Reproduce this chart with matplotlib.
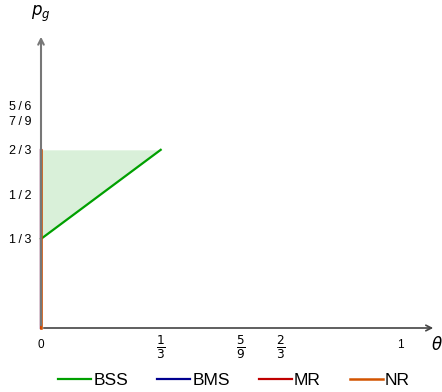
import numpy as np
import matplotlib.pyplot as plt
import matplotlib.transforms as mtransforms

plt.rcParams['font.family'] = ['Liberation Sans', 'DejaVu Sans']

# data
bss_theta = [0, 1/3]
bss_pg = [1/3, 2/3]
region_theta = [0, 1/3]
region_low = [1/3, 2/3]
region_high = [2/3, 2/3]
bms_theta = [0, 0]
bms_pg = [0, 2/3]
mr_theta = [0, 0]
mr_pg = [0, 2/3]
nr_theta = [0, 0]
nr_pg = [0, 2/3]

xticks = [0, 1/3, 5/9, 2/3, 1]
xlabels = ['0', r'$\frac{1}{3}$', r'$\frac{5}{9}$', r'$\frac{2}{3}$', '1']
yticks = [1/3, 1/2, 2/3, 7/9, 5/6]
ylabels = ['1\u2009/\u20093', '1\u2009/\u20092', '2\u2009/\u20093', '7\u2009/\u20099', '5\u2009/\u20096']

c_bss = '#00a000'
c_bms = '#000090'
c_mr = '#c00000'
c_nr = '#d35400'

fig = plt.figure(figsize=(4.42, 3.92), dpi=100)
ax = fig.add_axes([41/442, 64/392, 395/442, 294/392])
ax.set_xlim(0, 1.1)
ax.set_ylim(0, 1.1)
for s in ax.spines.values():
    s.set_visible(False)

# axes with arrows
ax.annotate('', xy=(1.1, 0), xytext=(0, 0),
            arrowprops=dict(arrowstyle='->', color='#444444', lw=1.2), annotation_clip=False)
ax.annotate('', xy=(0, 1.1), xytext=(0, 0),
            arrowprops=dict(arrowstyle='->', color='#777777', lw=1.5), annotation_clip=False)

ax.fill_between(region_theta, region_low, region_high, color=c_bss, alpha=0.15, lw=0)
ax.plot(bss_theta, bss_pg, color=c_bss, lw=1.6, label='BSS', clip_on=False)
ax.plot(bms_theta, bms_pg, color=c_bms, lw=1.6, label='BMS', clip_on=False)
ax.plot(mr_theta, mr_pg, color=c_mr, lw=1.6, label='MR', clip_on=False)
ax.plot(nr_theta, nr_pg, color=c_nr, lw=1.8, label='NR', clip_on=False)

ax.set_xticks(xticks, xlabels, fontsize=8.5)
ax.set_yticks(yticks, ylabels, fontsize=9)
ax.tick_params(axis='y', length=0, pad=7)
ax.tick_params(axis='x', length=0, pad=8)
# fractions sit a bit higher than the plain labels
shift = mtransforms.ScaledTranslation(0, 4/72, fig.dpi_scale_trans)
for lbl in ax.get_xticklabels():
    if 'frac' in lbl.get_text():
        lbl.set_fontsize(12.5)
        lbl.set_transform(lbl.get_transform() + shift)

ax.text(1.085, -0.064, r'$\theta$', fontsize=12, family='DejaVu Serif',
        ha='left', va='center')
ax.text(0.0, 1.176, r'$p_g$', fontsize=12, ha='center', va='center')

fig.legend(loc='center', bbox_to_anchor=(0.53, 0.03), ncol=4, frameon=False,
           fontsize=12.5, handlelength=1.9, handletextpad=0.1, columnspacing=1.7,
           borderpad=0)

fig.savefig('out.png', dpi=100)
